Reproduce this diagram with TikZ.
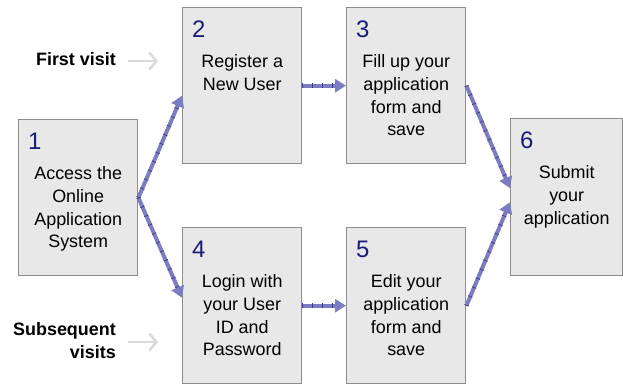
\documentclass[tikz,border=0pt]{standalone}
\usepackage{fontspec}
\setmainfont{Liberation Sans}
\usetikzlibrary{arrows.meta}
\definecolor{boxfill}{HTML}{E8E8E8}
\definecolor{boxline}{HTML}{8C8C8C}
\definecolor{numc}{HTML}{1A1A78}
\definecolor{flowc}{HTML}{7C7CC0}
\definecolor{flowd}{HTML}{3A3A8C}
\definecolor{visitc}{HTML}{DADADA}
\tikzset{
  stepbox/.style={draw=boxline, fill=boxfill, line width=1.4bp, minimum width=119bp, minimum height=156bp, inner sep=0pt, anchor=north west},
  num/.style={anchor=base west, inner sep=0pt, text=numc, font=\fontsize{24}{28}\selectfont},
  body/.style={anchor=north, inner sep=0pt, align=center, font=\fontsize{18}{23}\selectfont},
  lbl/.style={inner sep=0pt, align=right, font=\bfseries\fontsize{18}{23}\selectfont},
  flow/.style={line width=4bp, draw=flowc, -{Triangle[length=11bp,width=13bp]},
    postaction={draw=flowd, line width=4.5bp, dash pattern=on 0.7bp off 9bp, -, shorten >=11bp}},
  visit/.style={line width=2.5bp, draw=visitc, -{Straight Barb[length=7bp,width=17bp]}}
}
\begin{document}
\begin{tikzpicture}[x=1bp,y=-1bp]
\useasboundingbox (0,0) rectangle (623,384);
% boxes
\node[stepbox] (b1) at (18,119) {};
\node[stepbox] (b2) at (182,7) {};
\node[stepbox] (b3) at (346,7) {};
\node[stepbox] (b4) at (182,227) {};
\node[stepbox] (b5) at (346,227) {};
\node[stepbox, minimum width=112bp, minimum height=157bp] (b6) at (510,118) {};
% numbers
\foreach \b/\n in {b1/1,b2/2,b3/3,b4/4,b5/5,b6/6}
  \node[num] (n\n) at ([xshift=10bp,yshift=-30bp]\b.north west) {\n};
% texts
\node[body] (t1) at ([yshift=-47bp]b1.north) {Access the\\Online\\Application\\System};
\node[body] (t2) at ([yshift=-47bp]b2.north) {Register a\\New User};
\node[body] (t3) at ([yshift=-47bp]b3.north) {Fill up your\\application\\form and\\save};
\node[body] (t4) at ([yshift=-47bp]b4.north) {Login with\\your User\\ID and\\Password};
\node[body] (t5) at ([yshift=-47bp]b5.north) {Edit your\\application\\form and\\save};
\node[body] (t6) at ([yshift=-47bp]b6.north) {Submit\\your\\application};
% side labels
\node[lbl, anchor=base east] (first) at (116,65) {First visit};
\node[lbl, anchor=north east] (subs) at (116,322) {Subsequent\\visits};
\coordinate (fa) at (128,61);
\coordinate (fb) at (158,61);
\coordinate (sa) at (128,342);
\coordinate (sb) at (158,342);
\draw[visit] (fa) -- (fb);
\draw[visit] (sa) -- (sb);
% flows
\draw[flow] (b1.east) -- ([yshift=-10bp]b2.west);
\draw[flow] (b1.east) -- ([yshift=8bp]b4.west);
\draw[flow] (b2.east) -- (b3.west);
\draw[flow] (b4.east) -- (b5.west);
\draw[flow] (b3.east) -- ([yshift=9bp]b6.west);
\draw[flow] (b5.east) -- ([yshift=-5bp]b6.west);
\end{tikzpicture}
\end{document}
